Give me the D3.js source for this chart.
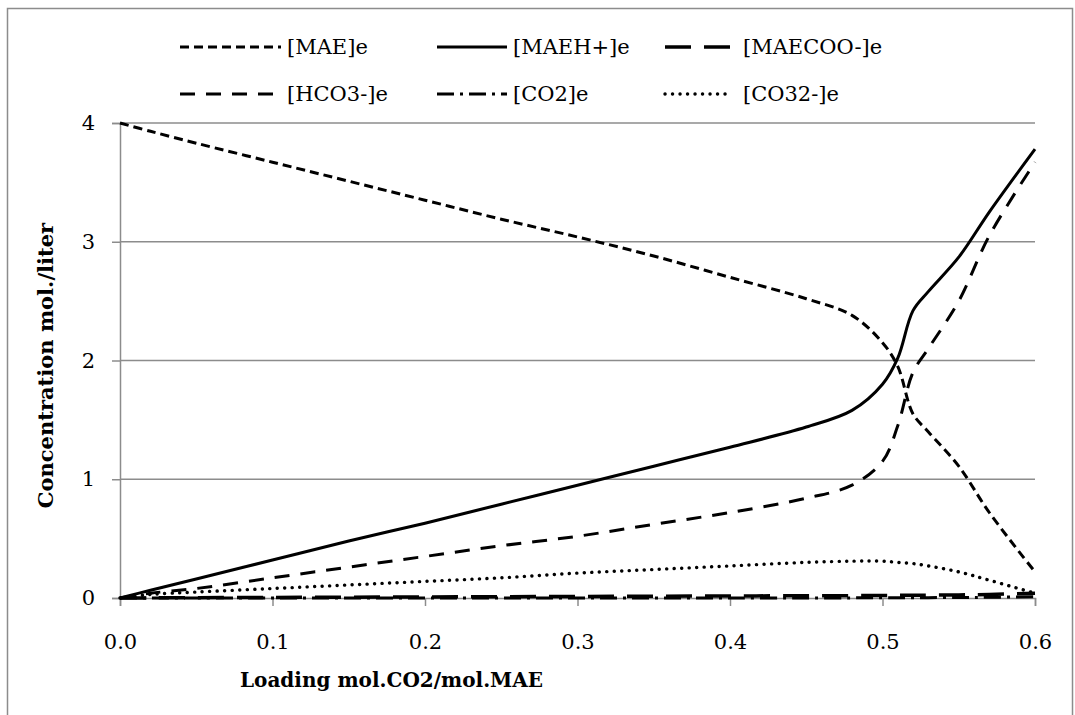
<!DOCTYPE html>
<html>
<head>
<meta charset="utf-8">
<script src="https://cdn.jsdelivr.net/npm/d3@7"></script>
<style>
  html, body { margin: 0; padding: 0; background: #fff; }
  svg { display: block; }
  text { font-family: "DejaVu Serif", serif; fill: #000; }
</style>
</head>
<body>
<svg id="chart" width="1075" height="715"></svg>
<script>
// CO2 loading (mol CO2 / mol MAE)
const loading = [0, 0.02, 0.05, 0.1, 0.15, 0.2, 0.25, 0.3, 0.35, 0.4, 0.45, 0.48, 0.5, 0.51, 0.52, 0.53, 0.55, 0.57, 0.6];

// Equilibrium concentrations, mol/liter
const mae    = [4.0, 3.93, 3.83, 3.67, 3.51, 3.35, 3.19, 3.04, 2.88, 2.70, 2.52, 2.38, 2.15, 1.95, 1.55, 1.40, 1.11, 0.72, 0.22];
const maeh   = [0, 0.065, 0.16, 0.32, 0.48, 0.63, 0.79, 0.95, 1.11, 1.27, 1.44, 1.58, 1.80, 2.02, 2.42, 2.58, 2.87, 3.25, 3.78];
const maecoo = [0, 0.001, 0.003, 0.005, 0.007, 0.009, 0.011, 0.013, 0.015, 0.017, 0.019, 0.02, 0.021, 0.022, 0.023, 0.024, 0.026, 0.03, 0.04];
const hco3   = [0, 0.04, 0.08, 0.17, 0.26, 0.35, 0.44, 0.52, 0.62, 0.72, 0.84, 0.95, 1.15, 1.45, 1.90, 2.10, 2.50, 3.05, 3.67];
const co2    = [0, 0, 0, 0, 0, 0, 0, 0, 0, 0, 0.001, 0.001, 0.002, 0.002, 0.003, 0.003, 0.004, 0.006, 0.01];
const co32   = [0, 0.03, 0.05, 0.08, 0.11, 0.14, 0.17, 0.21, 0.24, 0.27, 0.30, 0.31, 0.31, 0.30, 0.29, 0.27, 0.22, 0.15, 0.04];

const xTicks = [0, 0.1, 0.2, 0.3, 0.4, 0.5, 0.6];
const yTicks = [0, 1, 2, 3, 4];

const xTitle = "Loading mol.CO2/mol.MAE";
const yTitle = "Concentration mol./liter";

const series = [
  { name: "[MAE]e",    values: mae,    dash: "9,5",        cap: "butt",  width: 3 },
  { name: "[MAEH+]e",  values: maeh,   dash: null,         cap: "butt",  width: 3 },
  { name: "[MAECOO-]e",values: maecoo, dash: "26,13",      cap: "butt",  width: 3.5 },
  { name: "[HCO3-]e",  values: hco3,   dash: "15,11",      cap: "butt",  width: 3 },
  { name: "[CO2]e",    values: co2,    dash: "17,6,3,6",   cap: "butt",  width: 3 },
  { name: "[CO32-]e",  values: co32,   dash: "0.1,7.4",    cap: "round", width: 3.4 }
];

const svg = d3.select("#chart");

// outer frame (bottom edge runs past the visible area)
svg.append("rect")
  .attr("x", 7.5).attr("y", 8.5).attr("width", 1065).attr("height", 712)
  .attr("fill", "none").attr("stroke", "#8c8c8c").attr("stroke-width", 1.5);

const plot = { left: 120, right: 1035, top: 123, bottom: 598 };

const x = d3.scaleLinear().domain([0, 0.6]).range([plot.left, plot.right]);
const y = d3.scaleLinear().domain([0, 4]).range([plot.bottom, plot.top]);

// horizontal gridlines
svg.append("g")
  .selectAll("line")
  .data(yTicks.filter(d => d > 0))
  .join("line")
  .attr("x1", plot.left).attr("x2", plot.right)
  .attr("y1", d => y(d)).attr("y2", d => y(d))
  .attr("stroke", "#8c8c8c").attr("stroke-width", 1.5);

// y axis
const yAxis = svg.append("g")
  .attr("transform", `translate(${plot.left},0)`)
  .call(d3.axisLeft(y).tickValues(yTicks).tickSize(8).tickPadding(17).tickFormat(d3.format("d")));
yAxis.select(".domain").attr("stroke", "#8c8c8c").attr("stroke-width", 1.5);
yAxis.selectAll(".tick line").attr("stroke", "#8c8c8c").attr("stroke-width", 1.5);
yAxis.selectAll(".tick text")
  .attr("font-family", "DejaVu Serif").attr("font-size", 21).attr("fill", "#000");

// x axis
const xAxis = svg.append("g")
  .attr("transform", `translate(0,${plot.bottom})`)
  .call(d3.axisBottom(x).tickValues(xTicks).tickSize(8).tickPadding(28).tickFormat(d3.format(".1f")));
xAxis.select(".domain").attr("stroke", "#8c8c8c").attr("stroke-width", 1.5);
xAxis.selectAll(".tick line").attr("stroke", "#8c8c8c").attr("stroke-width", 1.5);
xAxis.selectAll(".tick text")
  .attr("font-family", "DejaVu Serif").attr("font-size", 21).attr("fill", "#000");

// series lines
const line = d3.line()
  .x((d, i) => x(loading[i]))
  .y(d => y(d))
  .curve(d3.curveCatmullRom.alpha(0.5));

svg.append("g")
  .selectAll("path")
  .data(series)
  .join("path")
  .attr("d", s => line(s.values))
  .attr("fill", "none")
  .attr("stroke", "#000")
  .attr("stroke-width", s => s.width)
  .attr("stroke-linecap", s => s.cap)
  .attr("stroke-dasharray", s => s.dash);

// axis titles
svg.append("text")
  .attr("x", 240).attr("y", 687)
  .attr("font-weight", "bold").attr("font-size", 20)
  .text(xTitle);

svg.append("text")
  .attr("transform", `translate(53,${(plot.top + plot.bottom) / 2 + 5}) rotate(-90)`)
  .attr("text-anchor", "middle")
  .attr("font-weight", "bold").attr("font-size", 21)
  .text(yTitle);

// legend: two rows of three entries (line start, line end, text start per column)
const legendCols = [
  { x1: 180, x2: 281, tx: 287 },
  { x1: 437, x2: 507, tx: 513 },
  { x1: 665, x2: 732, tx: 743 }
];
const legendRows = [47, 94];
const legend = svg.append("g")
  .selectAll("g")
  .data(series)
  .join("g")
  .attr("transform", (s, i) => `translate(0,${legendRows[Math.floor(i / 3)]})`);

legend.append("line")
  .attr("x1", (s, i) => legendCols[i % 3].x1)
  .attr("x2", (s, i) => legendCols[i % 3].x2)
  .attr("y1", 0).attr("y2", 0)
  .attr("stroke", "#000")
  .attr("stroke-width", s => s.width)
  .attr("stroke-linecap", s => s.cap)
  .attr("stroke-dasharray", s => s.dash);

legend.append("text")
  .attr("x", (s, i) => legendCols[i % 3].tx).attr("y", 0).attr("dy", "0.35em")
  .attr("font-size", 21)
  .text(s => s.name);
</script>
</body>
</html>
